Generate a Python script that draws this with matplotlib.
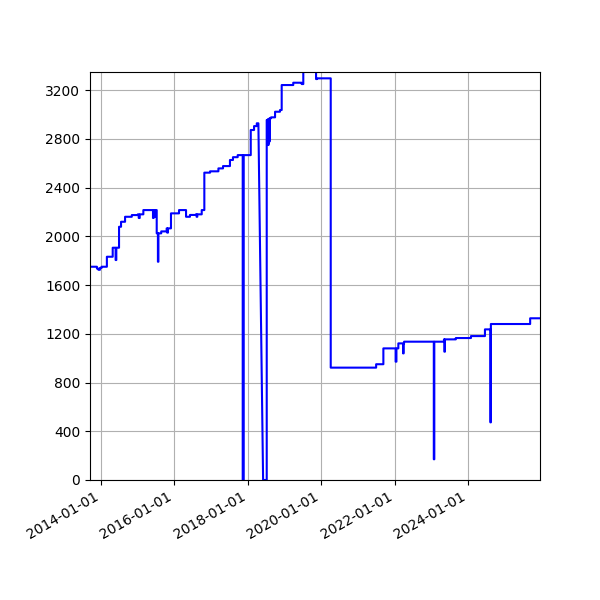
import matplotlib
matplotlib.use("Agg")
import matplotlib.pyplot as plt
import matplotlib.dates as mdates
import numpy as np
import pandas as pd

dates = [
    "2013-09-12", "2013-11-20", "2013-12-05", "2013-12-20", "2014-01-05", "2014-02-27",
    "2014-04-26", "2014-05-25", "2014-06-01", "2014-06-28", "2014-07-18", "2014-08-27",
    "2014-11-02", "2015-01-01", "2015-01-10", "2015-01-20", "2015-02-25", "2015-06-01",
    "2015-06-08", "2015-06-20", "2015-06-27", "2015-07-08", "2015-07-20", "2015-07-25",
    "2015-08-22", "2015-10-15", "2015-10-20", "2015-10-28", "2015-11-27", "2016-02-15",
    "2016-04-25", "2016-06-03", "2016-08-02", "2016-08-08", "2016-08-15", "2016-09-28",
    "2016-10-24", "2016-12-20", "2017-03-13", "2017-04-28", "2017-07-06", "2017-08-05",
    "2017-09-21", "2017-11-10", "2017-11-20", "2018-01-29", "2018-03-03", "2018-03-30",
    "2018-04-15", "2018-06-01", "2018-06-20", "2018-07-07", "2018-07-10", "2018-07-13",
    "2018-07-16", "2018-07-19", "2018-07-22", "2018-07-25", "2018-07-28", "2018-07-31",
    "2018-08-03", "2018-08-06", "2018-08-19", "2018-09-28", "2018-11-16",
    "2018-12-03", "2019-03-28", "2019-06-20", "2019-07-06", "2019-11-10", "2019-11-20",
    "2020-04-04", "2021-06-30", "2021-09-10", "2022-01-10", "2022-01-18", "2022-02-06",
    "2022-03-25", "2022-03-31", "2022-04-04", "2023-01-25", "2023-01-30", "2023-05-06",
    "2023-05-10", "2023-05-16", "2023-09-01", "2024-01-30", "2024-06-17", "2024-08-10",
    "2024-08-15", "2025-09-10", "2025-12-17",
]
values = [
    1750, 1735, 1725, 1740, 1750, 1832,
    1906, 1805, 1906, 2078, 2119, 2160,
    2174, 2180, 2150, 2180, 2215, 2150,
    2215, 2160, 2215, 2024, 1791, 2024,
    2040, 2065, 2030, 2065, 2188, 2215,
    2160, 2175, 2180, 2160, 2180, 2215,
    2522, 2533, 2557, 2576, 2626, 2649,
    2666, 0, 2666, 2872, 2904, 2927,
    2927, 0, 0, 2954, 2749, 2954,
    2760, 2960, 2749, 2960, 2770, 2965,
    2780, 2968, 2976, 3022, 3036,
    3241, 3260, 3249, 3450, 3290, 3296,
    922, 950, 1080, 971, 1080, 1121,
    1039, 1121, 1135, 170, 1135, 1154,
    1053, 1154, 1165, 1181, 1236, 473,
    1280, 1327, 1327,
]

d = pd.to_datetime(dates)

fig, ax = plt.subplots(figsize=(6, 6), dpi=100)
# ramp (linear) segment during the 2018 data gap, steps elsewhere
gap_start = pd.Timestamp("2018-04-15")
xs, ys = [], []
for i in range(len(d)):
    xs.append(d[i]); ys.append(values[i])
    if i + 1 < len(d):
        if d[i] == gap_start:
            continue
        xs.append(d[i + 1]); ys.append(values[i])
ax.plot(xs, ys, color="blue", linewidth=1.5)

ax.set_xlim(pd.Timestamp("2013-09-12"), pd.Timestamp("2025-12-17"))
ax.set_ylim(0, 3348)
ax.set_yticks(np.arange(0, 3300, 400))
ax.xaxis.set_major_locator(mdates.YearLocator(2))
ax.xaxis.set_major_formatter(mdates.DateFormatter("%Y-%m-%d"))
ax.grid(True)
fig.autofmt_xdate()
fig.subplots_adjust(left=0.15, right=0.9, top=0.88, bottom=0.2)
fig.savefig("out.png", dpi=100)
